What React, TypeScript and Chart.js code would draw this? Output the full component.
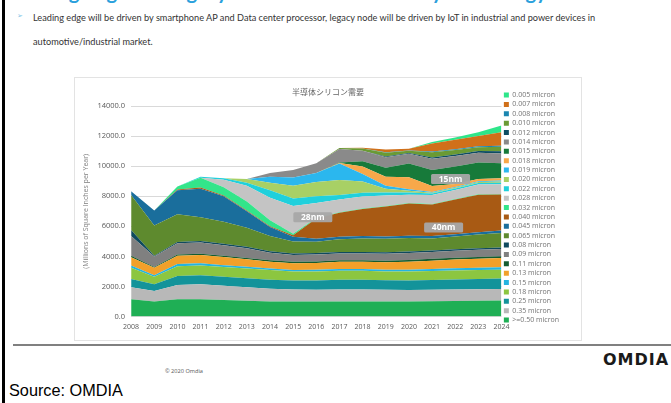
import React, { useEffect, useRef } from 'react';
import { Chart, registerables } from 'chart.js';

Chart.register(...registerables);

const years = ['2008', '2009', '2010', '2011', '2012', '2013', '2014', '2015', '2016', '2017', '2018', '2019', '2020', '2021', '2022', '2023', '2024'];

// stacked from the bottom (>=0.50 micron) to the top (0.005 micron)
const seriesNames = ['>=0.50 micron', '0.35 micron', '0.25 micron', '0.18 micron', '0.15 micron', '0.13 micron', '0.11 micron', '0.09 micron', '0.08 micron', '0.065 micron', '0.045 micron', '0.040 micron', '0.032 micron', '0.028 micron', '0.022 micron', '0.020 micron', '0.019 micron', '0.018 micron', '0.015 micron', '0.014 micron', '0.012 micron', '0.010 micron', '0.008 micron', '0.007 micron', '0.005 micron'];

const s050 = [1150, 1000, 1150, 1150, 1100, 1050, 1000, 1000, 1000, 1000, 1000, 1000, 1000, 1020, 1040, 1050, 1070];
const s035 = [800, 700, 950, 1000, 950, 900, 850, 800, 780, 800, 800, 780, 760, 760, 760, 760, 760];
const s025 = [550, 450, 600, 600, 600, 600, 600, 600, 620, 650, 650, 640, 640, 650, 660, 690, 700];
const s018 = [750, 500, 650, 650, 650, 650, 650, 600, 600, 600, 600, 580, 600, 600, 600, 590, 580];
const s015 = [150, 100, 150, 150, 120, 120, 100, 100, 120, 120, 120, 110, 110, 130, 150, 160, 170];
const s013 = [550, 500, 550, 550, 550, 500, 450, 450, 450, 480, 480, 500, 540, 560, 580, 600, 620];
const s011 = [100, 50, 80, 80, 80, 80, 100, 100, 100, 100, 100, 110, 120, 120, 120, 120, 120];
const s009 = [1300, 700, 750, 750, 700, 650, 500, 450, 450, 450, 450, 450, 450, 460, 470, 480, 480];
const s008 = [400, 50, 80, 100, 100, 100, 100, 100, 100, 100, 100, 100, 100, 100, 100, 100, 100];
const s0065 = [2340, 2000, 1840, 1570, 1450, 1250, 1000, 800, 750, 850, 900, 900, 900, 800, 850, 900, 950];
const s0045 = [250, 1000, 1600, 1900, 1700, 1100, 600, 300, 200, 150, 150, 150, 150, 150, 150, 150, 170];
const s0040 = [0, 0, 50, 80, 50, 50, 50, 100, 1350, 1600, 1800, 2000, 2150, 2100, 2300, 2500, 2400];
const s0032 = [0, 0, 200, 650, 550, 600, 400, 100, 30, 30, 30, 30, 30, 30, 30, 30, 30];
const s0028 = [0, 0, 0, 0, 500, 1050, 1500, 1850, 1000, 850, 800, 700, 550, 600, 600, 650, 650];
const s0022 = [0, 0, 0, 70, 100, 200, 500, 500, 450, 300, 250, 200, 150, 100, 100, 100, 100];
const s0020 = [0, 0, 0, 0, 0, 250, 500, 850, 950, 1000, 750, 250, 120, 60, 60, 60, 80];
const s0019 = [0, 0, 0, 0, 0, 0, 400, 550, 600, 1100, 500, 200, 100, 50, 50, 50, 60];
const s0018 = [0, 0, 0, 0, 0, 0, 0, 0, 0, 30, 500, 600, 800, 400, 200, 150, 150];
const s0015 = [0, 0, 0, 0, 0, 0, 0, 0, 0, 30, 350, 600, 900, 1050, 1150, 1100, 1000];
const s0014 = [0, 0, 0, 0, 0, 0, 250, 500, 650, 900, 700, 700, 650, 750, 700, 650, 650];
const s0012 = [0, 0, 0, 0, 0, 0, 0, 0, 0, 0, 0, 50, 50, 80, 100, 120, 150];
const s0010 = [0, 0, 0, 0, 0, 0, 0, 0, 0, 60, 150, 250, 150, 350, 300, 250, 300];
const s0008 = [0, 0, 0, 0, 0, 0, 0, 0, 0, 0, 0, 30, 30, 50, 50, 60, 70];
const s0007 = [0, 0, 0, 0, 0, 0, 0, 0, 0, 0, 50, 170, 100, 530, 630, 680, 900];
const s0005 = [0, 0, 0, 0, 0, 0, 0, 0, 0, 0, 0, 0, 0, 100, 150, 250, 440];

const seriesValues = [s050, s035, s025, s018, s015, s013, s011, s009, s008, s0065, s0045, s0040, s0032, s0028, s0022, s0020, s0019, s0018, s0015, s0014, s0012, s0010, s0008, s0007, s0005];

const seriesColors = ['#1faf55', '#b8b8b8', '#13939a', '#8cc640', '#24b4e0', '#f2a02a', '#145c30', '#808080', '#0f4a5e', '#5e8a2e', '#1a6e9c', '#a85a14', '#33e58a', '#c4c4c4', '#20d0dc', '#a8d065', '#2bb7ee', '#f7a84a', '#177a3a', '#8a8a8a', '#0e4d62', '#6a9a34', '#1b86b0', '#d0701a', '#2ee68a'];

const yTickValues = [0, 2000, 4000, 6000, 8000, 10000, 12000, 14000];

const nodeLabels = ['28nm', '15nm', '40nm'];
const nodeLabelYear = [7.85, 13.8, 13.5];
const nodeLabelValue = [6600, 9150, 5920];

const chartTitle = '半導体シリコン需要';
const yAxisTitle = '(Millions of Square Inches per Year)';

const slideTitle = 'Leading edge and legacy node silicon demand by technology';
const bulletLine1 = 'Leading edge will be driven by smartphone AP and Data center processor, legacy node will be driven by IoT in industrial and power devices in';
const bulletLine2 = 'automotive/industrial market.';

function fitSize(text: string, font: string, target: number) {
  const c = document.createElement('canvas').getContext('2d');
  if (!c) return 10;
  c.font = `100px ${font}`;
  const w = c.measureText(text).width;
  return (100 * target) / w;
}

const overlayPlugin = {
  id: 'overlayLabels',
  afterDatasetsDraw(chart: any) {
    const { ctx } = chart;
    const x = chart.scales.x;
    const y = chart.scales.y;
    ctx.save();
    nodeLabels.forEach((t, i) => {
      const px = x.getPixelForValue(nodeLabelYear[i]);
      const py = y.getPixelForValue(nodeLabelValue[i]);
      const w = 39;
      const h = 10;
      ctx.fillStyle = 'rgba(168,168,168,0.95)';
      ctx.beginPath();
      ctx.roundRect(px - w / 2, py - h / 2, w, h, 1.5);
      ctx.fill();
      ctx.fillStyle = '#ffffff';
      ctx.font = 'bold 8.5px "Open Sans"';
      ctx.textAlign = 'center';
      ctx.textBaseline = 'middle';
      ctx.fillText(t, px, py + 0.5);
    });
    ctx.fillStyle = '#666666';
    ctx.font = '8px "Noto Sans CJK JP"';
    ctx.textAlign = 'center';
    ctx.textBaseline = 'middle';
    ctx.fillText(chartTitle, chart.width / 2, 14);
    ctx.restore();
  },
};

function StackChart() {
  const ref = useRef<HTMLCanvasElement>(null);
  useEffect(() => {
    if (!ref.current) return;
    const datasets = seriesValues.map((vals, i) => ({
      label: seriesNames[i],
      data: vals,
      backgroundColor: seriesColors[i],
      borderColor: 'rgba(0,0,0,0)',
      borderWidth: 0,
      pointRadius: 0,
      pointHoverRadius: 0,
      tension: 0,
      fill: i === 0 ? 'origin' : '-1',
    }));
    const chart = new Chart(ref.current, {
      type: 'line',
      data: { labels: years, datasets },
      plugins: [overlayPlugin],
      options: {
        responsive: false,
        animation: false,
        devicePixelRatio: 1,
        layout: { padding: { left: 6, right: 12, top: 0, bottom: 3 } },
        plugins: {
          title: { display: true, text: ' ', fullSize: false, padding: { top: 9, bottom: 9.4 }, font: { size: 8 } },
          tooltip: { enabled: false },
          legend: {
            position: 'right',
            reverse: true,
            labels: {
              boxWidth: 5,
              boxHeight: 5,
              padding: 2.375,
              color: '#737373',
              font: { size: 7, family: '"Open Sans"' },
            },
          },
        },
        scales: {
          x: {
            grid: { display: false, drawTicks: false },
            border: { display: false },
            ticks: { color: '#595959', font: { size: 7, family: '"Open Sans"' }, padding: 6, maxRotation: 0, autoSkip: false },
          },
          y: {
            stacked: true,
            min: 0,
            max: 14000,
            afterBuildTicks: (s: any) => { s.ticks = yTickValues.map((v) => ({ value: v })); },
            grid: { color: '#d9d9d9', drawTicks: false },
            border: { display: false },
            ticks: { color: '#595959', font: { size: 7.5, family: '"Open Sans"' }, padding: 6, callback: (v: any) => Number(v).toFixed(1) },
            title: { display: true, text: yAxisTitle, color: '#7f7f7f', font: { size: 7, family: '"Open Sans"' }, padding: { top: 1, bottom: 1 } },
          },
        },
      },
    });
    return () => chart.destroy();
  }, []);
  return <canvas ref={ref} width={506} height={262} style={{ width: 506, height: 262, display: 'block' }} />;
}

export default function App() {
  const abs = (o: any) => ({ position: 'absolute' as const, whiteSpace: 'nowrap' as const, lineHeight: 1, ...o });
  const titleSize = fitSize(slideTitle, 'bold Lato', 493);
  const bulletSize = fitSize(bulletLine1, 'Lato', 565);
  const sourceSize = fitSize('Source: OMDIA', '"Liberation Sans"', 114);
  const copySize = fitSize('© 2020 Omdia', '"Open Sans"', 38);
  return (
    <div style={{ position: 'absolute', left: 0, top: 0, width: 671, height: 403, overflow: 'hidden', background: '#ffffff', fontFamily: 'Lato' }}>
      <div style={abs({ left: 10, top: -1 - 0.887 * titleSize, fontSize: titleSize, color: '#2aa0dc', fontWeight: 700, fontFamily: 'Lato' })}>
        {slideTitle}
      </div>
      <div style={abs({ left: 2, top: 0, width: 3, height: 403, background: '#000' })} />
      <div style={abs({ left: 17, top: 13, fontSize: 7, color: '#7fc3e6', fontFamily: '"DejaVu Sans"' })}>➢</div>
      <div style={abs({ left: 33, top: 21 - 0.887 * bulletSize, fontSize: bulletSize, color: '#333' })}>{bulletLine1}</div>
      <div style={abs({ left: 33, top: 45.5 - 0.887 * bulletSize, fontSize: bulletSize, color: '#333' })}>{bulletLine2}</div>
      <div style={abs({ left: 75, top: 78, width: 506, height: 262, outline: '1px solid #e3e3e3' })}>
        <StackChart />
      </div>
      <div style={abs({ left: 13, top: 344, width: 658, height: 1.5, background: '#808080' })} />
      <div style={abs({ left: 165, top: 374 - 0.888 * copySize, fontSize: copySize, color: '#555', fontFamily: '"Open Sans"' })}>© 2020 Omdia</div>
      <div style={abs({ left: 603, top: 352, fontSize: 16, fontWeight: 700, color: '#1a1a1a', letterSpacing: 1, fontFamily: '"DejaVu Sans"' })}>OMDIA</div>
      <div style={abs({ left: 9, top: 396 - 0.8465 * sourceSize, fontSize: sourceSize, color: '#000', fontFamily: '"Liberation Sans"' })}>Source: OMDIA</div>
    </div>
  );
}
